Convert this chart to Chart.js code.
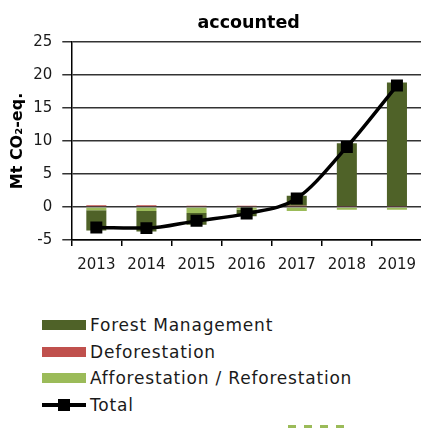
<!DOCTYPE html>
<html>
<head>
<meta charset="utf-8">
<script src="https://cdn.jsdelivr.net/npm/chart.js@4.4.0/dist/chart.umd.min.js"></script>
<style>
  html, body { margin: 0; padding: 0; background: #fff; overflow: hidden; width: 421px; height: 428px; }
  #wrap { position: absolute; left: 0; top: 0; width: 440px; height: 292px; }
  #legend { position: absolute; left: 42px; top: 312px; font-family: "DejaVu Sans", sans-serif; font-size: 17px; letter-spacing: 0.8px; color: #1a1a1a; }
  .item { display: flex; align-items: center; height: 26.5px; }
  .sw { width: 44px; height: 10px; margin-right: 4px; position: relative; }
  .tail { position: absolute; left: 288px; top: 425px; width: 56px; height: 3px;
          background: repeating-linear-gradient(90deg, #9bbb59 0 8px, transparent 8px 16px); }
</style>
</head>
<body>
<div id="wrap"><canvas id="c" width="440" height="292"></canvas></div>
<div id="legend"></div>
<div class="tail"></div>
<script>
const years = ['2013', '2014', '2015', '2016', '2017', '2018', '2019'];
const forestManagement = [-3.05, -3.1, -1.8, -1.0, 1.5, 9.5, 18.7];
const deforestation = [0.25, 0.25, 0.2, 0.2, 0.2, 0.15, 0.15];
const afforestation = [-0.5, -0.6, -0.9, -0.4, -0.6, -0.4, -0.4];
const total = [-3.1, -3.2, -2.1, -1.0, 1.3, 9.1, 18.4];
const yTicks = [-5, 0, 5, 10, 15, 20, 25];
const chartTitle = 'accounted';

const colFM = '#4f6228';
const colD = '#c0504d';
const colAR = '#9bbb59';
const font = 'DejaVu Sans';

// Title centred over the plot area rather than the whole canvas
const plotTitle = {
  id: 'plotTitle',
  afterDraw(chart) {
    const { ctx, chartArea } = chart;
    ctx.save();
    ctx.font = 'bold 17.5px "' + font + '"';
    ctx.fillStyle = '#000';
    ctx.textAlign = 'center';
    ctx.textBaseline = 'middle';
    ctx.fillText(chartTitle, (chartArea.left + chartArea.right) / 2 + 2, 23);
    ctx.restore();
  }
};

const chart = new Chart(document.getElementById('c'), {
  type: 'bar',
  data: {
    labels: years,
    datasets: [
      { label: 'Afforestation / Reforestation', data: afforestation, backgroundColor: colAR, stack: 'lulucf', order: 1, barPercentage: 0.4, categoryPercentage: 1 },
      { label: 'Deforestation', data: deforestation, backgroundColor: colD, stack: 'lulucf', order: 1, barPercentage: 0.4, categoryPercentage: 1 },
      { label: 'Forest Management', data: forestManagement, backgroundColor: colFM, stack: 'lulucf', order: 1, barPercentage: 0.4, categoryPercentage: 1 },
      { type: 'line', label: 'Total', data: total, stack: 'total', order: 0,
        borderColor: '#000', backgroundColor: '#000', borderWidth: 3.5,
        pointStyle: 'rect', pointRadius: 6, pointHoverRadius: 6, cubicInterpolationMode: 'monotone' }
    ]
  },
  options: {
    responsive: false,
    animation: false,
    layout: { padding: { left: 4, right: 18, top: 42, bottom: 8 } },
    plugins: {
      legend: { display: false },
      tooltip: { enabled: false },
      title: { display: false }
    },
    scales: {
      x: {
        stacked: true,
        offset: true,
        grid: { offset: true, drawOnChartArea: false, drawTicks: true, tickLength: 6, color: '#000', lineWidth: 1.5 },
        border: { color: '#000', width: 1.5 },
        ticks: { color: '#1a1a1a', font: { family: font, size: 15 }, padding: 10 }
      },
      y: {
        stacked: true,
        min: -5, max: 25,
        afterBuildTicks: (axis) => { axis.ticks = yTicks.map(v => ({ value: v })); },
        grid: { color: '#333', lineWidth: 1.5, tickLength: 9 },
        border: { color: '#000', width: 1.5 },
        ticks: { color: '#1a1a1a', font: { family: font, size: 15 }, padding: 10 },
        title: { display: true, text: 'Mt CO\u2082-eq.', color: '#000', font: { family: font, size: 16, weight: 'bold' }, padding: { top: 4, bottom: -4 } }
      }
    }
  },
  plugins: [plotTitle]
});

// Legend listed in reading order: Forest Management first, Total last
const legend = document.getElementById('legend');
const entries = [
  { text: 'Forest Management', color: colFM },
  { text: 'Deforestation', color: colD },
  { text: 'Afforestation / Reforestation', color: colAR },
  { text: 'Total', line: true }
];
entries.forEach(e => {
  const row = document.createElement('div');
  row.className = 'item';
  const sw = document.createElement('div');
  sw.className = 'sw';
  if (e.line) {
    sw.style.height = '12px';
    sw.innerHTML = '<div style="position:absolute;left:0;right:0;top:4.5px;height:3.5px;background:#000"></div>' +
                   '<div style="position:absolute;left:16px;top:0;width:12px;height:12px;background:#000"></div>';
  } else {
    sw.style.background = e.color;
  }
  const t = document.createElement('span');
  t.textContent = e.text;
  row.appendChild(sw);
  row.appendChild(t);
  legend.appendChild(row);
});
</script>
</body>
</html>
